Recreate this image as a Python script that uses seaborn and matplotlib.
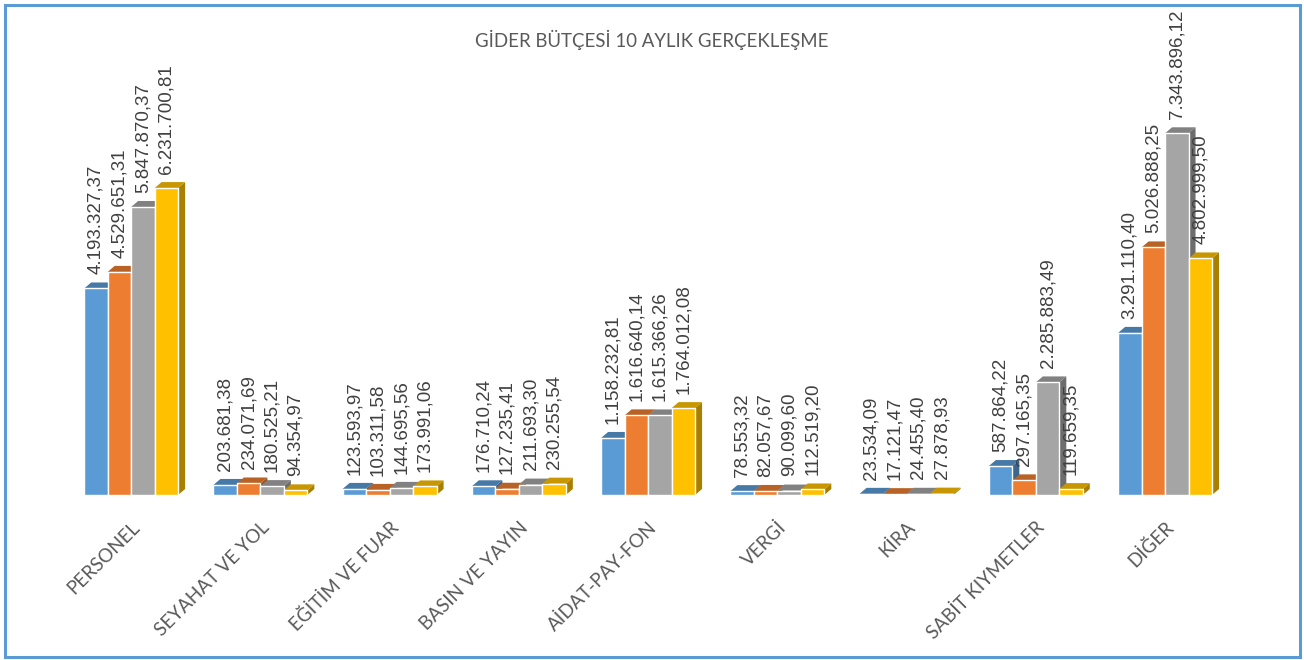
import numpy as np
import pandas as pd
import matplotlib
matplotlib.use("Agg")
import matplotlib.pyplot as plt
from matplotlib.patches import Polygon, Rectangle
from matplotlib.colors import to_rgb
import seaborn as sns

kalemler = ["PERSONEL", "SEYAHAT VE YOL", "EĞİTİM VE FUAR", "BASIN VE YAYIN",
            "AİDAT-PAY-FON", "VERGİ", "KİRA", "SABİT KIYMETLER", "DİĞER"]
seri_1 = [4193327.37, 203681.38, 123593.97, 176710.24, 1158232.81,
          78553.32, 23534.09, 587864.22, 3291110.40]
seri_2 = [4529651.31, 234071.69, 103311.58, 127235.41, 1616640.14,
          82057.67, 17121.47, 297165.35, 5026888.25]
seri_3 = [5847870.37, 180525.21, 144695.56, 211693.30, 1615366.26,
          90099.60, 24455.40, 2285883.49, 7343896.12]
seri_4 = [6231700.81, 94354.97, 173991.06, 230255.54, 1764012.08,
          112519.20, 27878.93, 119659.35, 4802999.50]
seri_adlari = ["Seri 1", "Seri 2", "Seri 3", "Seri 4"]
renkler = ["#5B9BD5", "#ED7D31", "#A5A5A5", "#FFC000"]

baslik = "GİDER BÜTÇESİ 10 AYLIK GERÇEKLEŞME"


def tr_format(v):
    # 1,234.56 -> 1.234,56
    s = f"{v:,.2f}"
    return s.replace(",", "#").replace(".", ",").replace("#", ".")


def koyu(c, f):
    r, g, b = to_rgb(c)
    return (r * f, g * f, b * f)


df = pd.DataFrame({
    "kalem": np.tile(kalemler, 4),
    "tutar": seri_1 + seri_2 + seri_3 + seri_4,
    "seri": np.repeat(seri_adlari, len(kalemler)),
})

sns.set_style("white")
fig = plt.figure(figsize=(13.04, 6.6), dpi=100)
ax = fig.add_axes([0.051, 0.25, 0.892, 0.597])

sns.barplot(data=df, x="kalem", y="tutar", hue="seri", palette=renkler,
            width=0.727, saturation=1, legend=False, errorbar=None, ax=ax,
            zorder=3)

ax.set_xlim(-0.5, len(kalemler) - 0.5)
ax.set_ylim(0, 8000000)
ax.set_xlabel("")
ax.set_ylabel("")
ax.set_yticks([])
sns.despine(ax=ax, left=True, bottom=True)

# basit 3B gorunum: ust ve yan yuzler (piksel ofsetinden veri birimine)
dx_px, dy_px = 7, 6
p0 = ax.transData.inverted().transform((0, 0))
p1 = ax.transData.inverted().transform((dx_px, dy_px))
ddx, ddy = p1[0] - p0[0], p1[1] - p0[1]

barlar = list(ax.patches)
for bar in barlar:
    x0 = bar.get_x()
    w = bar.get_width()
    h = bar.get_height()
    fc = bar.get_facecolor()
    x1 = x0 + w
    yan = Polygon([(x1, 0), (x1, h), (x1 + ddx, h + ddy), (x1 + ddx, ddy)],
                  closed=True, facecolor=koyu(fc, 0.66), edgecolor="none", zorder=1)
    ust = Polygon([(x0, h), (x1, h), (x1 + ddx, h + ddy), (x0 + ddx, h + ddy)],
                  closed=True, facecolor=koyu(fc, 0.78), edgecolor="none", zorder=2)
    ax.add_patch(yan)
    ax.add_patch(ust)
    ax.annotate(tr_format(h), (x0 + w / 2, h + ddy), xytext=(0, 6),
                textcoords="offset points", rotation=90, ha="center", va="bottom",
                fontsize=13.5, color="#404040",
                family=["Liberation Sans Narrow", "Liberation Sans"], zorder=5)

ax.set_xticks(range(len(kalemler)))
ax.set_xticklabels(kalemler, rotation=45, ha="right", rotation_mode="anchor",
                   fontsize=13.5, color="#595959", family="Lato")
ax.tick_params(axis="x", length=0, pad=17)

fig.text(0.5, 0.939, baslik, ha="center", va="center", fontsize=13.4,
         color="#595959", family="Lato")

fig.patches.append(Rectangle((0.004, 0.004), 0.993, 0.989, transform=fig.transFigure,
                             fill=False, edgecolor="#5B9BD5", linewidth=2.2))

fig.savefig("out.png", dpi=100, facecolor="white")
